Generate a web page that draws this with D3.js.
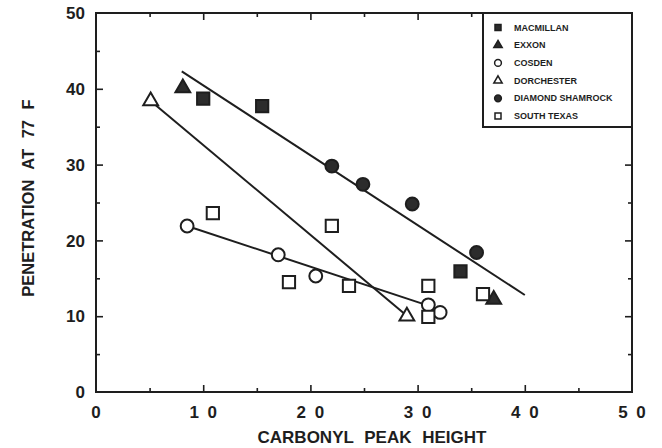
<!DOCTYPE html>
<html>
<head>
<meta charset="utf-8">
<script src="https://cdn.jsdelivr.net/npm/d3@7"></script>
<style>
  body { margin: 0; background: #fff; }
  svg { font-family: "Liberation Sans", Arial, sans-serif; font-weight: bold; }
</style>
</head>
<body>
<svg width="662" height="448"></svg>
<script>
// data
const macmillan = [[10.0, 38.7], [15.5, 37.7], [34.0, 15.9]];
const exxon = [[8.1, 40.1], [37.1, 12.2]];
const cosden = [[8.5, 21.9], [17.0, 18.1], [20.5, 15.3], [31.0, 11.5], [32.1, 10.5]];
const dorchester = [[5.1, 38.4], [29.0, 10.0]];
const diamond = [[22.0, 29.8], [24.9, 27.4], [29.5, 24.8], [35.5, 18.4]];
const southTexas = [[10.9, 23.6], [18.0, 14.5], [22.0, 21.9], [23.6, 14.0], [31.0, 14.0], [31.0, 9.9], [36.1, 12.9]];

// fitted lines (end points)
const fitUpper = [[8.0, 42.3], [40.0, 12.8]];
const fitDorchester = [[5.1, 38.4], [28.8, 10.3]];
const fitCosden = [[8.5, 21.9], [31.0, 11.4]];

const xTicks = [0, 10, 20, 30, 40, 50];
const yTicks = [0, 10, 20, 30, 40, 50];
const minorTicks = [5, 15, 25, 35, 45];

const series = [
  { name: "MACMILLAN", data: macmillan, shape: d3.symbolSquare, fill: true },
  { name: "EXXON", data: exxon, shape: d3.symbolTriangle, fill: true },
  { name: "COSDEN", data: cosden, shape: d3.symbolCircle, fill: false },
  { name: "DORCHESTER", data: dorchester, shape: d3.symbolTriangle, fill: false },
  { name: "DIAMOND SHAMROCK", data: diamond, shape: d3.symbolCircle, fill: true },
  { name: "SOUTH TEXAS", data: southTexas, shape: d3.symbolSquare, fill: false }
];

const ink = "#1e1e1e";
const margin = { top: 13, right: 30, bottom: 56, left: 96 },
    plotWidth = 662 - margin.left - margin.right,
    plotHeight = 448 - margin.top - margin.bottom;

const svg = d3.select("svg");
const g = svg.append("g")
    .attr("transform", `translate(${margin.left}, ${margin.top})`);

const x = d3.scaleLinear().domain([0, 50]).range([0, plotWidth]);
const y = d3.scaleLinear().domain([0, 50]).range([plotHeight, 0]);

// ticks on all four sides, pointing inward
const axes = [
  [() => d3.axisBottom(x), `translate(0, ${plotHeight})`],
  [() => d3.axisTop(x), "translate(0, 0)"],
  [() => d3.axisLeft(y), "translate(0, 0)"],
  [() => d3.axisRight(y), `translate(${plotWidth}, 0)`]
];
axes.forEach(([mk, tr]) => {
  g.append("g").attr("transform", tr)
      .call(mk().tickValues(xTicks.slice(1, -1)).tickSize(-7).tickFormat(""));
  g.append("g").attr("transform", tr)
      .call(mk().tickValues(minorTicks).tickSize(-4).tickFormat(""));
});
g.selectAll(".domain").remove();
g.selectAll(".tick line").attr("stroke", ink).attr("stroke-width", 1.6);

// frame
g.append("rect")
    .attr("width", plotWidth)
    .attr("height", plotHeight)
    .attr("fill", "none")
    .attr("stroke", ink)
    .attr("stroke-width", 2);

// tick labels
g.selectAll(".xlab").data(xTicks).enter().append("text")
    .attr("x", d => x(d))
    .attr("y", plotHeight + 26)
    .attr("text-anchor", "middle")
    .attr("font-size", "17px")
    .attr("word-spacing", "4px")
    .attr("fill", ink)
    .text(d => String(d).split("").join(" "));

g.selectAll(".ylab").data(yTicks).enter().append("text")
    .attr("x", -11)
    .attr("y", d => y(d))
    .attr("dy", "0.36em")
    .attr("text-anchor", "end")
    .attr("font-size", "17px")
    .attr("fill", ink)
    .text(d => d);

// axis titles
g.append("text")
    .attr("x", plotWidth / 2 + 8)
    .attr("y", plotHeight + 51)
    .attr("text-anchor", "middle")
    .attr("font-size", "17px")
    .attr("word-spacing", "6px")
    .attr("fill", ink)
    .text("CARBONYL PEAK HEIGHT");

g.append("text")
    .attr("transform", `translate(${34 - margin.left}, ${198 - margin.top}) rotate(-90)`)
    .attr("text-anchor", "middle")
    .attr("font-size", "16.5px")
    .attr("word-spacing", "6px")
    .attr("fill", ink)
    .text("PENETRATION AT 77 F");

// fitted lines
const line = d3.line().x(d => x(d[0])).y(d => y(d[1]));
[fitUpper, fitDorchester, fitCosden].forEach(pts => {
  g.append("path")
      .attr("d", line(pts))
      .attr("fill", "none")
      .attr("stroke", ink)
      .attr("stroke-width", 2);
});

// points
series.forEach(s => {
  const sym = d3.symbol().type(s.shape)
      .size(s.shape === d3.symbolTriangle ? 95 : (s.shape === d3.symbolSquare ? 150 : 130));
  g.selectAll(null).data(s.data).enter().append("path")
      .attr("transform", d => `translate(${x(d[0])}, ${y(d[1])})`)
      .attr("d", sym)
      .attr("fill", s.fill ? "#2c2c2c" : "#fff")
      .attr("stroke", ink)
      .attr("stroke-width", 2);
});

// legend
const legend = svg.append("g")
    .attr("transform", "translate(483, 13)");
legend.append("rect")
    .attr("width", 149)
    .attr("height", 114)
    .attr("fill", "#fff")
    .attr("stroke", ink)
    .attr("stroke-width", 2);
const items = legend.selectAll(".item").data(series).enter().append("g")
    .attr("transform", (d, i) => `translate(15, ${14.5 + i * 17.7})`);
items.append("path")
    .attr("d", d => d3.symbol().type(d.shape).size(d.shape === d3.symbolTriangle ? 30 : 36)())
    .attr("fill", d => d.fill ? "#2c2c2c" : "#fff")
    .attr("stroke", ink)
    .attr("stroke-width", 1.5);
items.append("text")
    .attr("x", 16)
    .attr("dy", "0.35em")
    .attr("font-size", "9px")
    .attr("fill", ink)
    .text(d => d.name);
</script>
</body>
</html>
